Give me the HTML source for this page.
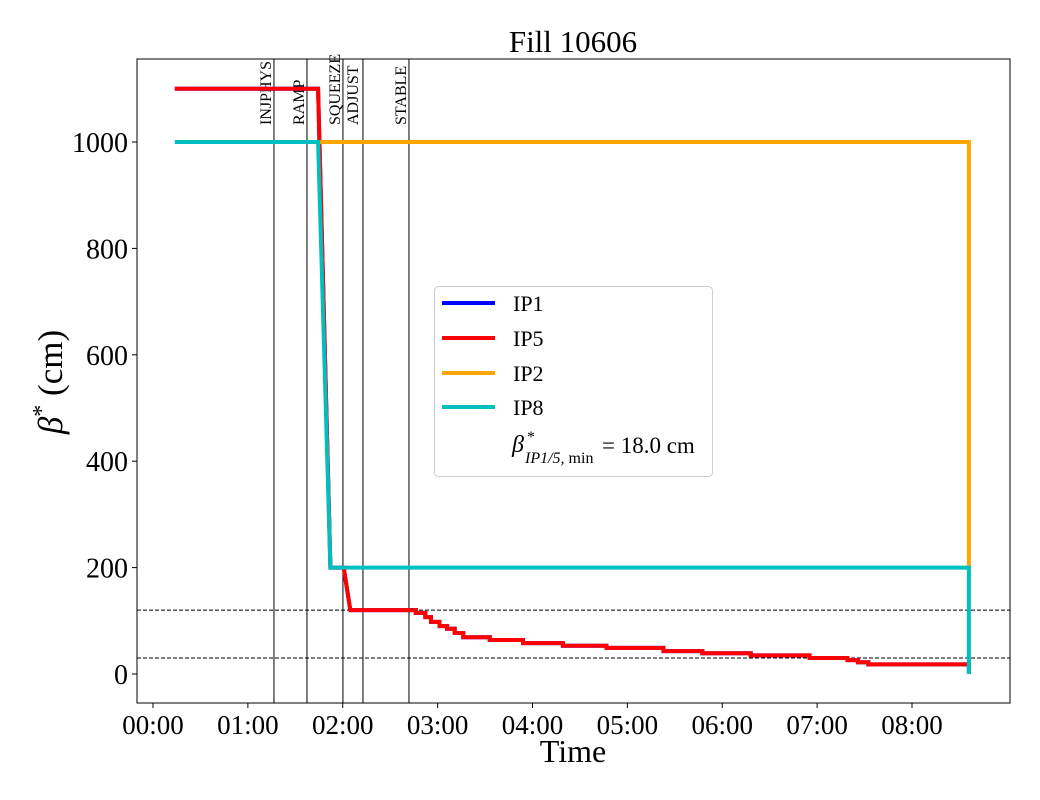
<!DOCTYPE html>
<html><head><meta charset="utf-8"><style>
html,body{margin:0;padding:0;background:#fff;}
svg{display:block;font-family:"Liberation Serif",serif;}
</style></head><body>
<svg id="chart" width="1040" height="800" viewBox="0 0 1040 800" xmlns="http://www.w3.org/2000/svg">
<rect width="1040" height="800" fill="#fff"/>
<text x="573" y="52" font-size="31" text-anchor="middle">Fill 10606</text>
<g id="plot"></g>
<text x="573" y="762" font-size="32" text-anchor="middle">Time</text>
<text transform="translate(62,382) rotate(-90)" font-size="35" text-anchor="middle"><tspan font-style="italic">β</tspan><tspan dy="-13" font-size="24">*</tspan><tspan dy="13"> (cm)</tspan></text>
<g>
<rect x="434.5" y="286.5" width="278" height="190" rx="4" fill="#fff" stroke="#ccc"/>
<line x1="442" y1="303" x2="495" y2="303" stroke="#0000ff" stroke-width="4"/>
<text x="513" y="311" font-size="22">IP1</text>
<line x1="442" y1="338" x2="495" y2="338" stroke="#ff0000" stroke-width="4"/>
<text x="513" y="346" font-size="22">IP5</text>
<line x1="442" y1="373" x2="495" y2="373" stroke="#ffa500" stroke-width="4"/>
<text x="513" y="381" font-size="22">IP2</text>
<line x1="442" y1="407" x2="495" y2="407" stroke="#00bfbf" stroke-width="4"/>
<text x="513" y="415" font-size="22">IP8</text>
<g>
<text x="512" y="452" font-size="24" font-style="italic">β</text>
<text x="527" y="442" font-size="16">*</text>
<text x="525" y="463" font-size="16"><tspan font-style="italic">IP1/5,</tspan> min</text>
<text x="602" y="453" font-size="23">= 18.0 cm</text>
</g>
</g>
</svg>
<script>
const xHours = [0.23, 1.74, 1.87, 2.01, 2.08, 2.77, 2.87, 2.93, 3.02, 3.10, 3.18, 3.27, 3.55, 3.90, 4.32, 4.78, 5.38, 5.79, 6.30, 6.92, 7.32, 7.43, 7.54, 8.60];
const ip5Values = [1100, 1100, 200, 200, 120, 115, 107, 98, 90, 85, 77, 69, 64, 58, 53, 49, 43, 39, 35, 30, 26, 22, 18, 18];
const ip8Times = [0.23, 1.74, 1.87, 8.60, 8.60];
const ip8Values = [1000, 1000, 200, 200, 0];
const ip2Times = [1.74, 8.60, 8.60];
const ip2Values = [1000, 1000, 200];
const phaseNames = ["INJPHYS", "RAMP", "SQUEEZE", "ADJUST", "STABLE"];
const phaseTimes = [1.275, 1.623, 2.002, 2.213, 2.698];
const refLevels = [120, 30];
const yTicks = [0, 200, 400, 600, 800, 1000];
const xTicks = [0, 1, 2, 3, 4, 5, 6, 7, 8];
const xTickLabels = ["00:00", "01:00", "02:00", "03:00", "04:00", "05:00", "06:00", "07:00", "08:00"];

const L = 137, R = 1010, T = 59, B = 703;
const X = h => 153 + h * 94.875;
const Y = v => 674 - v * 0.532;
const NS = "http://www.w3.org/2000/svg";
const plot = document.getElementById("plot");
function mk(tag, attrs) { const e = document.createElementNS(NS, tag); for (const k in attrs) e.setAttribute(k, attrs[k]); plot.appendChild(e); return e; }

refLevels.forEach(v => {
  const l = mk("line", {x1: L, x2: R, y1: Y(v), y2: Y(v), stroke: "#000", "stroke-width": 1, "stroke-dasharray": "4,2"});
  
  
});
phaseTimes.forEach((t, i) => {
  const l = mk("line", {x1: X(t), x2: X(t), y1: T, y2: B, stroke: "#000", "stroke-width": 1});
  
  
  const dx = (i === 3) ? -6 : -4;
  const tx = mk("text", {transform: `translate(${X(t) + dx + 1},125) rotate(-90)`, "font-size": 16, "text-anchor": "start"});
  tx.textContent = phaseNames[i];
  
  
});

function stepPath(ts, vs) {
  return ts.map((t, i) => (i ? "L" : "M") + X(t).toFixed(1) + "," + Y(vs[i]).toFixed(1)).join(" ");
}
function stairs(ts, vs) {
  let d = "M" + X(ts[0]) + "," + Y(vs[0]);
  for (let i = 1; i < ts.length; i++) {
    if (i <= 4) d += " L" + X(ts[i]) + "," + Y(vs[i]);
    else d += " L" + X(ts[i]) + "," + Y(vs[i - 1]) + " L" + X(ts[i]) + "," + Y(vs[i]);
  }
  d += " L" + X(ts[ts.length - 1]) + "," + Y(0);
  return d;
}
const ip1 = mk("path", {d: stairs(xHours, ip5Values), fill: "none", stroke: "#0000ff", "stroke-width": 4});


const ip5 = mk("path", {d: stairs(xHours, ip5Values), fill: "none", stroke: "#ff0000", "stroke-width": 4});


const ip2 = mk("path", {d: stepPath(ip2Times, ip2Values), fill: "none", stroke: "#ffa500", "stroke-width": 4});


const ip8 = mk("path", {d: stepPath(ip8Times, ip8Values), fill: "none", stroke: "#00bfbf", "stroke-width": 4});



const fr = mk("rect", {x: L, y: T, width: R - L, height: B - T, fill: "none", stroke: "#000", "stroke-width": 1});


yTicks.forEach(v => {
  mk("line", {x1: L - 5, x2: L, y1: Y(v), y2: Y(v), stroke: "#000"});
  const t = mk("text", {x: L - 9, y: Y(v) + 10, "font-size": 28, "text-anchor": "end"});
  t.textContent = v;
  
  
});
xTicks.forEach((h, i) => {
  mk("line", {x1: X(h), x2: X(h), y1: B, y2: B + 5, stroke: "#000"});
  const t = mk("text", {x: X(h), y: B + 31, "font-size": 27, "text-anchor": "middle"});
  t.textContent = xTickLabels[i];
  
  
});
</script>
</body></html>
